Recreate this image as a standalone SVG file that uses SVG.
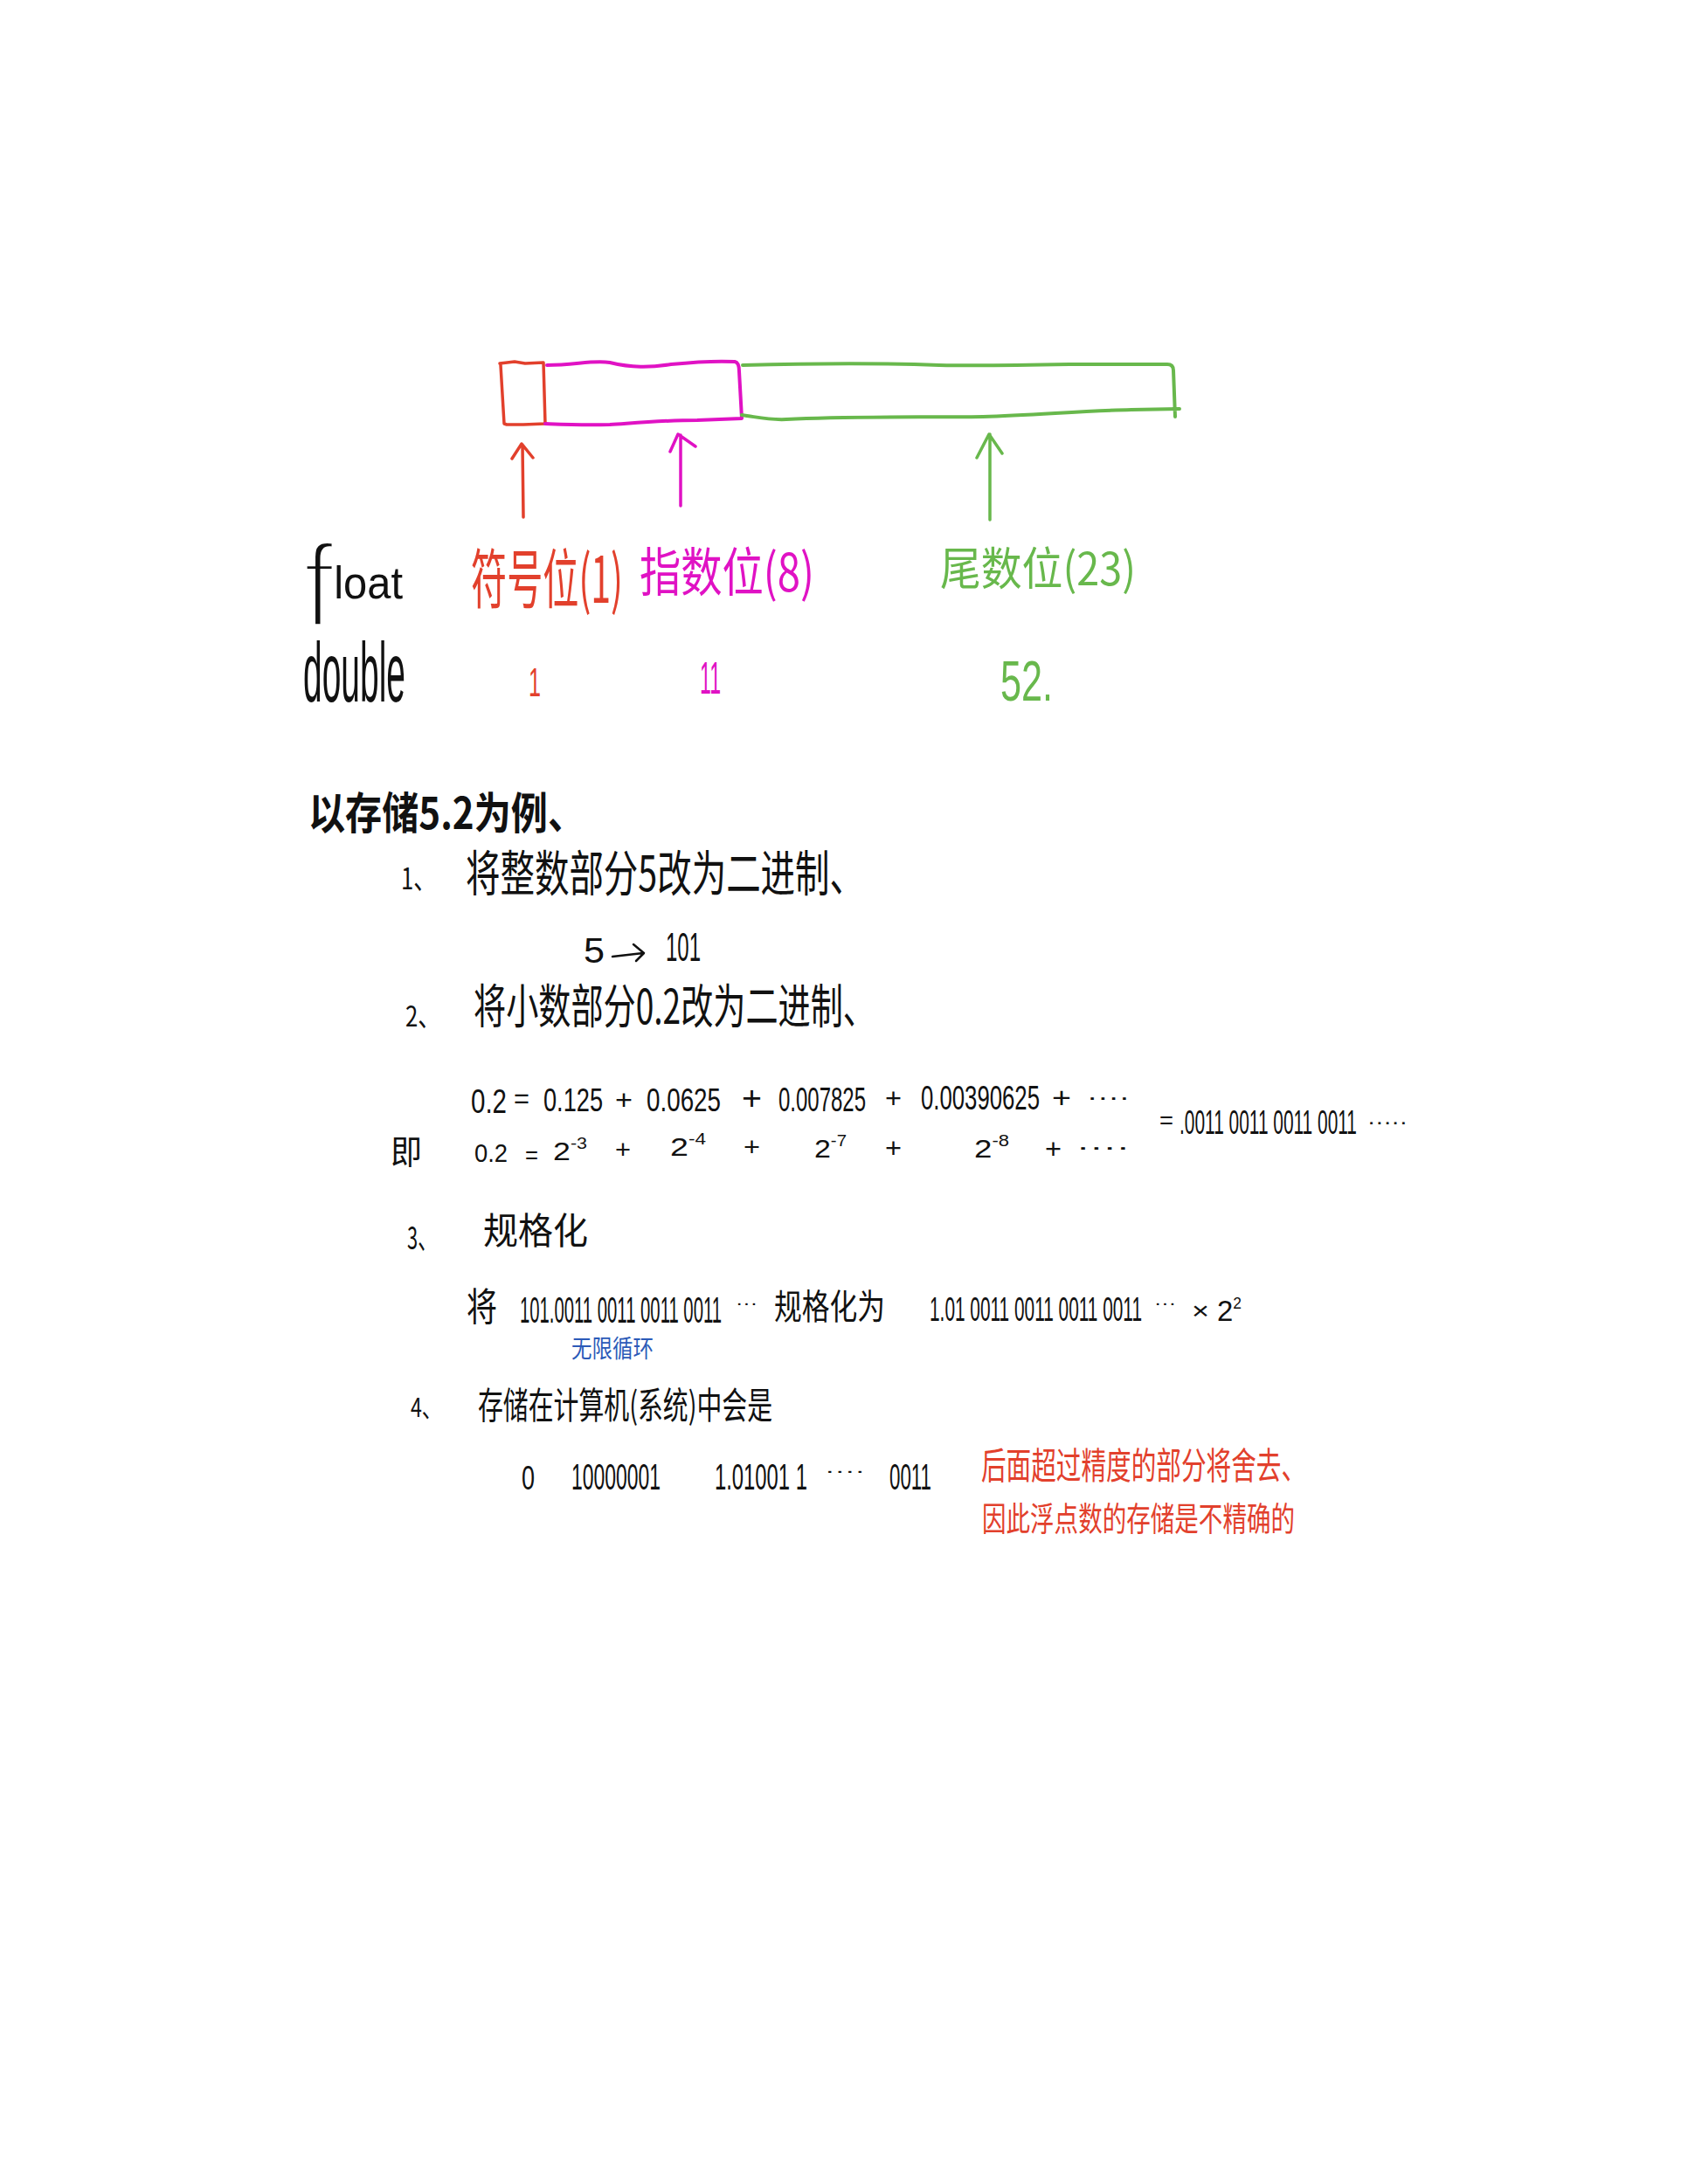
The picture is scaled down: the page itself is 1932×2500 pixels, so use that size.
<svg xmlns="http://www.w3.org/2000/svg" width="1932" height="2500" viewBox="0 0 1932 2500">
<style>
text{font-family:"Noto Sans CJK SC","Liberation Sans",sans-serif;fill:#111}
.l{font-family:"Liberation Sans","Noto Sans CJK SC",sans-serif}
.b{font-weight:700}
.red{fill:#e2402c}.mag{fill:#e012c4}.grn{fill:#68b84c}.blu{fill:#2b5ab8}
.s{fill:none;stroke-linecap:round;stroke-linejoin:round}
.sr{stroke:#e2402c;stroke-width:3.5}.sm{stroke:#e012c4;stroke-width:3.5}.sg{stroke:#68b84c;stroke-width:3.5}
</style>
<rect width="1932" height="2500" fill="#fff"/>
<g id="cells">
<g id="cell-sign"><path class="s sr" d="M572 416L589 414L601 416L622 415L624 485L599 486L580 486L577 485L573 418"/></g>
<g id="cell-exponent"><path class="s sm" style="stroke-width:4" d="M626 418C658 418 678 412 698 415C723 421 743 421 768 417C798 414 822 413 841 414Q846 415 846 425L849 479L798 481C758 481 728 484 698 486C668 487 648 486 624 485"/></g>
<g id="cell-mantissa"><path class="s sg" style="stroke-width:4" d="M850 418C925 416 995 415 1075 418C1125 419 1175 418 1227 417L1336 417Q1343 417 1343 424L1345 477M849 475C870 478 880 481 900 480C975 476 1055 478 1125 477C1185 475 1245 470 1295 469L1350 468"/></g>
</g>
<g id="connectors">
<path class="s sr" d="M599 592L598 509M586 525L597 508L610 524"/>
<path class="s sm" d="M779 579L779 498M767 517L776 497L796 511"/>
<path class="s sg" d="M1133 595L1133 497M1118 524L1132 497L1147 519"/>
</g>
<g id="float-row">
<text id="float" class="l" x="347" y="717" font-size="135" textLength="114" lengthAdjust="spacingAndGlyphs"><tspan stroke="#fff" stroke-width="6">f</tspan><tspan dy="-32" font-size="52">loat</tspan></text>
<text id="float-sign" class="red" x="539" y="690" font-size="74" textLength="174" lengthAdjust="spacingAndGlyphs">符号位(1)</text>
<text id="float-exp" class="mag" x="732" y="677" font-size="60" textLength="200" lengthAdjust="spacingAndGlyphs">指数位(8)</text>
<text id="float-man" class="grn" x="1076" y="670" font-size="52" textLength="224" lengthAdjust="spacingAndGlyphs">尾数位(23)</text>
</g>
<g id="double-row">
<text id="double" class="l" x="347" y="803" font-size="97" textLength="117" lengthAdjust="spacingAndGlyphs">double</text>
<text id="double-sign" class="l red" x="605" y="797" font-size="46" textLength="14" lengthAdjust="spacingAndGlyphs">1</text>
<text id="double-exp" class="l mag" x="801" y="794" font-size="52" textLength="24" lengthAdjust="spacingAndGlyphs">11</text>
<text id="double-man" class="l grn" x="1145" y="802" font-size="64" textLength="60" lengthAdjust="spacingAndGlyphs">52.</text>
</g>
<g id="intro"><text class="b" x="353" y="949" font-size="50" textLength="316" lengthAdjust="spacingAndGlyphs">以存储5.2为例、</text></g>
<g id="step1">
<text x="459" y="1018" font-size="34" textLength="40" lengthAdjust="spacingAndGlyphs">1、</text>
<text x="533" y="1020" font-size="56" textLength="456" lengthAdjust="spacingAndGlyphs">将整数部分5改为二进制、</text>
<text class="l" x="668" y="1102" font-size="40" textLength="24" lengthAdjust="spacingAndGlyphs">5</text>
<path class="s" stroke="#111" stroke-width="2.5" d="M701 1095L736 1091M725 1081L737 1091L728 1100"/>
<text class="l" x="762" y="1100" font-size="46" textLength="40" lengthAdjust="spacingAndGlyphs">101</text>
</g>
<g id="step2">
<text x="464" y="1175" font-size="32" textLength="40" lengthAdjust="spacingAndGlyphs">2、</text>
<text x="542" y="1172" font-size="54" textLength="460" lengthAdjust="spacingAndGlyphs">将小数部分0.2改为二进制、</text>
<text class="l" x="539" y="1274" font-size="38" textLength="41" lengthAdjust="spacingAndGlyphs">0.2</text>
<text class="l" x="588" y="1268" font-size="32" textLength="18" lengthAdjust="spacingAndGlyphs">=</text>
<text class="l" x="622" y="1272" font-size="36" textLength="68" lengthAdjust="spacingAndGlyphs">0.125</text>
<text class="l" x="704" y="1270" font-size="32" textLength="20" lengthAdjust="spacingAndGlyphs">+</text>
<text class="l" x="740" y="1272" font-size="36" textLength="85" lengthAdjust="spacingAndGlyphs">0.0625</text>
<text class="l" x="849" y="1270" font-size="38" textLength="23" lengthAdjust="spacingAndGlyphs">+</text>
<text class="l" x="891" y="1272" font-size="38" textLength="100" lengthAdjust="spacingAndGlyphs">0.007825</text>
<text class="l" x="1013" y="1268" font-size="32" textLength="19" lengthAdjust="spacingAndGlyphs">+</text>
<text class="l" x="1054" y="1270" font-size="38" textLength="136" lengthAdjust="spacingAndGlyphs">0.00390625</text>
<text class="l" x="1204" y="1268" font-size="34" textLength="22" lengthAdjust="spacingAndGlyphs">+</text>
<text class="l" x="1244" y="1265" font-size="26" textLength="49" lengthAdjust="spacingAndGlyphs">····</text>
<text x="447" y="1332" font-size="38" textLength="36" lengthAdjust="spacingAndGlyphs">即</text>
<text class="l" x="543" y="1330" font-size="30" textLength="38" lengthAdjust="spacingAndGlyphs">0.2</text>
<text class="l" x="601" y="1332" font-size="28" textLength="15" lengthAdjust="spacingAndGlyphs">=</text>
<text class="l" x="633" y="1328" font-size="30" textLength="39" lengthAdjust="spacingAndGlyphs">2<tspan dy="-13" font-size="18">-3</tspan></text>
<text class="l" x="704" y="1326" font-size="30" textLength="18" lengthAdjust="spacingAndGlyphs">+</text>
<text class="l" x="767" y="1323" font-size="30" textLength="41" lengthAdjust="spacingAndGlyphs">2<tspan dy="-13" font-size="18">-4</tspan></text>
<text class="l" x="851" y="1323" font-size="30" textLength="19" lengthAdjust="spacingAndGlyphs">+</text>
<text class="l" x="932" y="1325" font-size="30" textLength="37" lengthAdjust="spacingAndGlyphs">2<tspan dy="-13" font-size="18">-7</tspan></text>
<text class="l" x="1013" y="1325" font-size="32" textLength="19" lengthAdjust="spacingAndGlyphs">+</text>
<text class="l" x="1115" y="1325" font-size="30" textLength="40" lengthAdjust="spacingAndGlyphs">2<tspan dy="-13" font-size="18">-8</tspan></text>
<text class="l" x="1196" y="1326" font-size="32" textLength="19" lengthAdjust="spacingAndGlyphs">+</text>
<text class="l" x="1232" y="1322" font-size="26" textLength="61" lengthAdjust="spacingAndGlyphs">····</text>
<text class="l" x="1327" y="1292" font-size="28" textLength="16" lengthAdjust="spacingAndGlyphs">=</text>
<text class="l" x="1350" y="1298" font-size="38" textLength="203" lengthAdjust="spacingAndGlyphs">.0011 0011 0011 0011</text>
<text class="l" x="1565" y="1292" font-size="24" textLength="46" lengthAdjust="spacingAndGlyphs">·····</text>
</g>
<g id="step3">
<text x="466" y="1430" font-size="36" textLength="34" lengthAdjust="spacingAndGlyphs">3、</text>
<text x="553" y="1424" font-size="42" textLength="120" lengthAdjust="spacingAndGlyphs">规格化</text>
<text x="534" y="1512" font-size="44" textLength="35" lengthAdjust="spacingAndGlyphs">将</text>
<text class="l" x="595" y="1514" font-size="42" textLength="231" lengthAdjust="spacingAndGlyphs">101.0011 0011 0011 0011</text>
<text class="l" x="842" y="1498" font-size="20" textLength="25" lengthAdjust="spacingAndGlyphs">···</text>
<text x="886" y="1510" font-size="40" textLength="127" lengthAdjust="spacingAndGlyphs">规格化为</text>
<text class="l" x="1064" y="1512" font-size="38" textLength="243" lengthAdjust="spacingAndGlyphs">1.01 0011 0011 0011 0011</text>
<text class="l" x="1321" y="1498" font-size="20" textLength="25" lengthAdjust="spacingAndGlyphs">···</text>
<text class="l" x="1364" y="1510" font-size="28" textLength="20" lengthAdjust="spacingAndGlyphs">×</text>
<text class="l" x="1393" y="1512" font-size="34" textLength="28" lengthAdjust="spacingAndGlyphs">2<tspan dy="-14" font-size="18">2</tspan></text>
<text class="blu" x="654" y="1554" font-size="28" textLength="94" lengthAdjust="spacingAndGlyphs">无限循环</text>
</g>
<g id="step4">
<text x="470" y="1622" font-size="30" textLength="36" lengthAdjust="spacingAndGlyphs">4、</text>
<text x="547" y="1624" font-size="42" textLength="337" lengthAdjust="spacingAndGlyphs">存储在计算机(系统)中会是</text>
<text class="l" x="597" y="1705" font-size="38" textLength="15" lengthAdjust="spacingAndGlyphs">0</text>
<text class="l" x="654" y="1705" font-size="42" textLength="102" lengthAdjust="spacingAndGlyphs">10000001</text>
<text class="l" x="818" y="1705" font-size="42" textLength="106" lengthAdjust="spacingAndGlyphs">1.01001 1</text>
<text class="l" x="944" y="1690" font-size="20" textLength="46" lengthAdjust="spacingAndGlyphs">····</text>
<text class="l" x="1018" y="1705" font-size="42" textLength="48" lengthAdjust="spacingAndGlyphs">0011</text>
</g>
<g id="note">
<text class="red" x="1123" y="1693" font-size="42" textLength="372" lengthAdjust="spacingAndGlyphs">后面超过精度的部分将舍去、</text>
<text class="red" x="1124" y="1752" font-size="38" textLength="358" lengthAdjust="spacingAndGlyphs">因此浮点数的存储是不精确的</text>
</g>
</svg>
